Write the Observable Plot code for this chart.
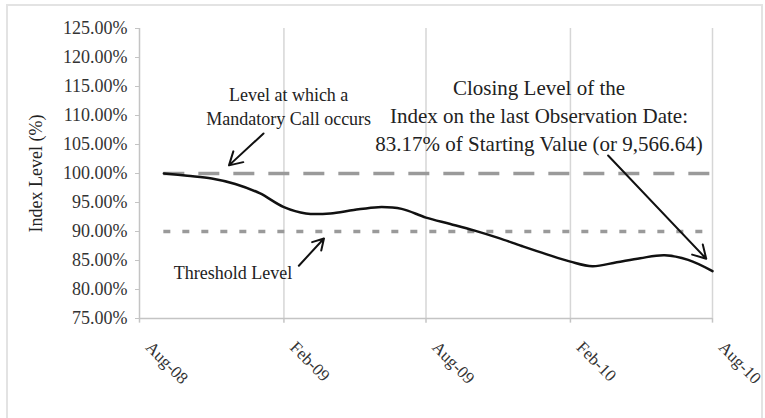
<!DOCTYPE html>
<html><head><meta charset="utf-8">
<script src="https://cdn.jsdelivr.net/npm/d3@7"></script>
<script src="https://cdn.jsdelivr.net/npm/@observablehq/plot@0.6"></script>
<style>
body{margin:0;background:#fff;}
#wrap{position:relative;width:765px;height:418px;overflow:hidden;}
#border{position:absolute;left:6px;top:4px;width:757px;height:430px;border:2px solid #e3e3e3;box-sizing:border-box;}
#chart{position:absolute;left:0;top:0;}
</style></head><body>
<div id="wrap"><div id="border"></div><div id="chart"></div></div>
<script>
// Monthly index level (% of starting value)
const months = ["2008-09-01","2008-10-01","2008-11-01","2008-12-01","2009-01-01","2009-02-01","2009-03-01","2009-04-01","2009-05-01","2009-06-01","2009-07-01","2009-08-01","2009-09-01","2009-10-01","2009-11-01","2009-12-01","2010-01-01","2010-02-01","2010-03-01","2010-04-01","2010-05-01","2010-06-01","2010-07-01","2010-08-01"];
const values = [100.0, 99.6, 99.15, 98.2, 96.6, 94.2, 93.1, 93.1, 93.7, 94.2, 93.9, 92.4, 91.3, 90.2, 88.9, 87.5, 86.1, 84.8, 84.0, 84.7, 85.4, 85.9, 85.1, 83.17];
const xTickDates = ["2008-08-01","2009-02-01","2009-08-01","2010-02-01","2010-08-01"];
const yTicks = [75, 80, 85, 90, 95, 100, 105, 110, 115, 120, 125];
const mandatoryLevel = 100;
const thresholdLevel = 90;
const labels = [
  {text: "Level at which a\nMandatory Call occurs", date: "2009-02-07", value: 111.7, size: 18},
  {text: "Closing Level of the\nIndex on the last Observation Date:\n83.17% of Starting Value (or 9,566.64)", date: "2009-12-23", value: 110.2, size: 21},
  {text: "Threshold Level", date: "2008-11-28", value: 83.1, size: 18}
];
const arrows = [
  {d1: "2009-01-06", v1: 106.9, d2: "2008-11-23", v2: 101.4},
  {d1: "2009-02-20", v1: 84.1, d2: "2009-03-24", v2: 88.8},
  {d1: "2010-03-21", v1: 103.1, d2: "2010-07-24", v2: 85.3}
];
const yLabel = "Index Level (%)";

const P = s => new Date(s + "T00:00:00Z");
const series = months.map((m, i) => ({date: P(m), value: values[i]}));
const ticks = xTickDates.map(P);
const refs = [
  {v: mandatoryLevel, x1: P(months[0]), x2: P(months[months.length-1])},
  {v: thresholdLevel, x1: P(months[0]), x2: P(months[months.length-1])}
];
const lab = labels.map(d => ({...d, date: P(d.date)}));
const arr = arrows.map(d => ({...d, d1: P(d.d1), d2: P(d.d2)}));
const fmt = d3.utcFormat("%b-%y");
const font = "'Liberation Serif', 'Times New Roman', serif";

const chart = Plot.plot({
  width: 765, height: 418,
  marginLeft: 139, marginRight: 53, marginTop: 28, marginBottom: 100,
  style: {fontFamily: font, fontSize: "18px", color: "#222", background: "transparent"},
  x: {type: "utc", domain: [ticks[0], ticks[ticks.length-1]], axis: null},
  y: {domain: [75, 125], axis: null},
  marks: [
    Plot.ruleX(ticks.slice(1), {stroke: "#d6d6d6", strokeWidth: 1.5}),
    Plot.ruleX([ticks[0]], {stroke: "#c4c4c4", strokeWidth: 1.5}),
    Plot.ruleY([75], {stroke: "#c4c4c4", strokeWidth: 1.5}),
    Plot.ruleX(ticks, {y1: 75, y2: 74.2, stroke: "#c4c4c4", strokeWidth: 1.5}),
    Plot.axisY(yTicks, {tickSize: 4, tickPadding: 8, tickFormat: d => d.toFixed(2) + "%", fontSize: 18, stroke: "#c4c4c4", fill: "#333", label: null}),
    Plot.text(ticks, {x: d => d, y: 75, text: d => fmt(d), rotate: 45, textAnchor: "start", lineAnchor: "middle", dx: 9, dy: 26, fontSize: 17, fill: "#333"}),
    Plot.text([yLabel], {frameAnchor: "left", dx: -103, rotate: -90, textAnchor: "middle", lineAnchor: "middle", fontSize: 18, fill: "#222", text: d => d}),
    Plot.ruleY(refs.slice(0,1), {y: "v", x1: "x1", x2: "x2", stroke: "#9a9a9a", strokeWidth: 3.5, strokeDasharray: "21,14"}),
    Plot.ruleY(refs.slice(1), {y: "v", x1: "x1", x2: "x2", stroke: "#9a9a9a", strokeWidth: 3.5, strokeDasharray: "7,12"}),
    Plot.line(series, {x: "date", y: "value", curve: "catmull-rom", stroke: "#111", strokeWidth: 2.5}),
    Plot.text(lab, {x: "date", y: "value", text: "text", fontSize: "size", lineHeight: 1.33, textAnchor: "middle", lineAnchor: "middle", fill: "#222"}),
    Plot.arrow(arr, {x1: "d1", y1: "v1", x2: "d2", y2: "v2", stroke: "#111", strokeWidth: 2, headLength: 11})
  ]
});
document.getElementById("chart").appendChild(chart);
</script>
</body></html>
